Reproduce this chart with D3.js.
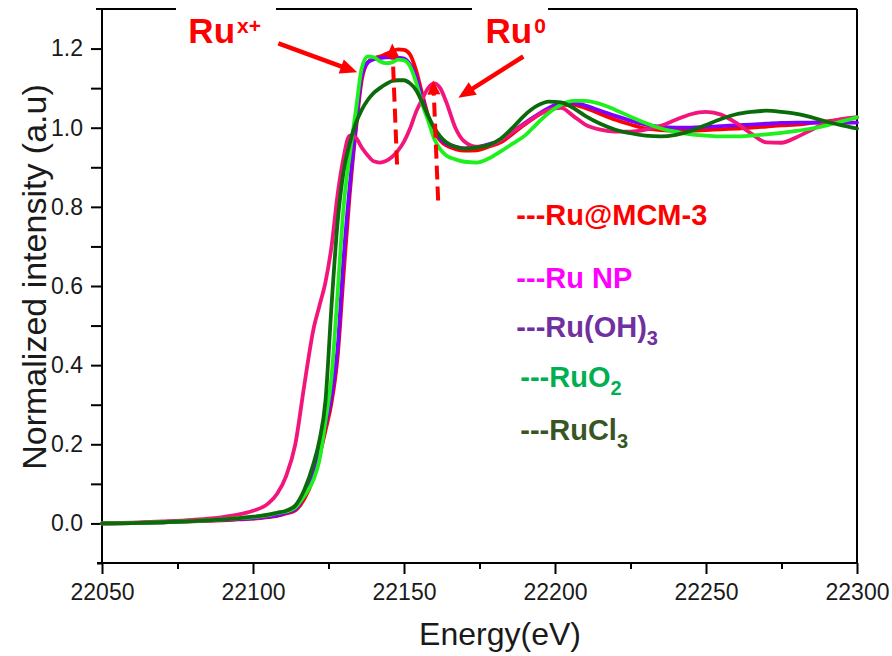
<!DOCTYPE html>
<html lang="en">
<head>
<meta charset="UTF-8">
<title>Ru K-edge XANES</title>
<script src="https://d3js.org/d3.v7.min.js"></script>
<style>
  body { margin: 0; background: #fff; }
  svg { display: block; font-family: Arial, "Liberation Sans", sans-serif; }
</style>
</head>
<body>
<svg></svg>
<script>
// energy grid (eV) shared by all spectra
const energy = [22050, 22060, 22070, 22080, 22090, 22095, 22100, 22105, 22108, 22111, 22114, 22117,
  22120, 22122, 22124, 22126, 22128, 22130, 22132, 22134, 22136, 22138, 22140, 22142, 22144, 22146, 22148,
  22150, 22152, 22154, 22156, 22158, 22160, 22162, 22164, 22167, 22170, 22174, 22178, 22182, 22186,
  22190, 22194, 22198, 22202, 22206, 22210, 22215, 22220, 22225, 22230, 22235, 22240, 22245, 22250, 22255,
  22260, 22265, 22270, 22275, 22280, 22285, 22290, 22295, 22300];

const ruMCM = [0, .001, .003, .005, .008, .010, .012, .016, .019, .025, .033, .062,
  .115, .17, .235, .305, .42, .63, .83, .99, 1.12, 1.165, 1.175, 1.18, 1.186, 1.192, 1.198,
  1.197, 1.185, 1.145, 1.086, 1.03, .99, .968, .955, .946, .942, .943, .952, .963, .985,
  1.008, 1.03, 1.048, 1.058, 1.058, 1.05, 1.035, 1.02, 1.008, .998, .994, .992, .992, .994, .996,
  .998, 1.0, 1.003, 1.006, 1.008, 1.012, 1.016, 1.021, 1.026];

const ruNP = [0, .002, .005, .009, .016, .022, .032, .05, .075, .12, .20, .35,
  .49, .55, .61, .70, .83, .925, .98, .975, .95, .93, .915, .912, .916, .926, .942,
  .965, .998, 1.04, 1.072, 1.10, 1.112, 1.10, 1.065, 1.0, .965, .952, .955, .968, .99,
  1.01, 1.03, 1.045, 1.05, 1.03, 1.008, .995, .99, .99, .995, 1.005, 1.02, 1.034, 1.04, 1.033,
  1.012, .985, .963, .962, .976, .995, 1.013, 1.022, 1.026];

const ruOH3 = [0, .001, .003, .006, .009, .011, .013, .017, .020, .027, .036, .070,
  .125, .184, .25, .32, .44, .67, .85, 1.0, 1.13, 1.165, 1.173, 1.176, 1.178, 1.178, 1.177,
  1.175, 1.16, 1.13, 1.075, 1.025, .993, .972, .96, .952, .948, .95, .958, .968, .99,
  1.012, 1.032, 1.05, 1.062, 1.063, 1.056, 1.043, 1.03, 1.018, 1.008, 1.002, 1.0, 1.0, 1.002, 1.004,
  1.006, 1.008, 1.01, 1.012, 1.013, 1.013, 1.013, 1.013, 1.013];

const ruO2 = [0, .001, .003, .006, .010, .013, .016, .021, .026, .030, .040, .070,
  .11, .16, .26, .37, .58, .80, .93, 1.04, 1.15, 1.18, 1.178, 1.168, 1.163, 1.165, 1.172,
  1.17, 1.155, 1.115, 1.06, 1.018, .972, .945, .93, .92, .914, .912, .922, .94, .96,
  .98, 1.01, 1.038, 1.058, 1.068, 1.068, 1.06, 1.045, 1.028, 1.012, .998, .99, .983, .98, .978,
  .978, .98, .983, .987, .992, .998, 1.006, 1.016, 1.026];

const ruCl3 = [0, .001, .003, .006, .010, .013, .017, .022, .027, .032, .045, .085,
  .15, .21, .31, .55, .76, .89, .96, 1.01, 1.045, 1.07, 1.088, 1.10, 1.11, 1.118, 1.12,
  1.12, 1.112, 1.095, 1.065, 1.03, 1.0, .978, .963, .952, .947, .95, .956, .972, 1.0,
  1.032, 1.055, 1.066, 1.064, 1.05, 1.03, 1.01, .995, .986, .98, .978, .982, .992, 1.007, 1.022,
  1.034, 1.04, 1.043, 1.04, 1.035, 1.026, 1.015, 1.006, .998];

// drawing order: red, purple, pink, light green, dark green on top
const seriesNames = ["Ru@MCM-3", "Ru(OH)3", "Ru NP", "RuO2", "RuCl3"];
const seriesValues = [ruMCM, ruOH3, ruNP, ruO2, ruCl3];
const lineColors = ["#ff0000", "#7f00ff", "#f2157c", "#1ef01e", "#0b6b0b"];

const xTicks = [22050, 22100, 22150, 22200, 22250, 22300];
const xMinor = [22075, 22125, 22175, 22225, 22275];
const yTicks = [0, 0.2, 0.4, 0.6, 0.8, 1.0, 1.2];
const yMinor = [0.1, 0.3, 0.5, 0.7, 0.9, 1.1];

// legend entries: [main text, subscript, colour]
const legendItems = [
  ["---Ru@MCM-3", "", "#ff0000"],
  ["---Ru NP", "", "#ff00ff"],
  ["---Ru(OH)", "3", "#7030a0"],
  ["---RuO", "2", "#00b050"],
  ["---RuCl", "3", "#375623"]
];

const width = 892, height = 656;
const svg = d3.select("svg").attr("width", width).attr("height", height);

const x = d3.scaleLinear().domain([22050, 22300]).range([102, 857]);
const y = d3.scaleLinear().domain([-0.1, 1.3]).range([563, 9]);

// axes
const gx = svg.append("g").attr("transform", `translate(0,${y(-0.1)})`);
gx.call(d3.axisBottom(x).tickValues(xTicks).tickSize(11).tickPadding(10).tickFormat(d3.format("d")));
gx.append("g").call(d3.axisBottom(x).tickValues(xMinor).tickSize(6).tickFormat(""));

const gy = svg.append("g").attr("transform", `translate(${x(22050)},0)`);
gy.call(d3.axisLeft(y).tickValues(yTicks).tickSize(11).tickPadding(8).tickFormat(d3.format(".1f")));
gy.append("g").call(d3.axisLeft(y).tickValues(yMinor).tickSize(11).tickFormat(""));
gy.append("g").call(d3.axisLeft(y).tickValues([-0.1]).tickSize(5).tickFormat(""));

svg.selectAll(".domain").remove();
svg.selectAll(".tick line").attr("stroke", "#000").attr("stroke-width", 2);
svg.selectAll(".tick text").attr("fill", "#1a1a1a").style("font-size", "23px")
  .style("font-family", "Arial, 'Liberation Sans', sans-serif");

// frame
const frame = svg.append("g").attr("stroke", "#000").attr("stroke-width", 2).attr("fill", "none");
frame.append("line").attr("x1", x(22050)).attr("x2", x(22050)).attr("y1", y(1.3)).attr("y2", y(-0.1));
frame.append("line").attr("x1", x(22050) - 5).attr("x2", x(22300)).attr("y1", y(-0.1)).attr("y2", y(-0.1));
frame.append("line").attr("x1", x(22300)).attr("x2", x(22300)).attr("y1", y(1.3)).attr("y2", y(-0.1));
frame.append("line").attr("x1", x(22050) - 6).attr("x2", x(22300)).attr("y1", y(1.3)).attr("y2", y(1.3));

// spectra
const line = d3.line().curve(d3.curveMonotoneX);
seriesValues.forEach((vals, i) => {
  const pts = energy.map((e, j) => [x(e), y(vals[j])]);
  svg.append("path")
    .attr("d", line(pts))
    .attr("fill", "none")
    .attr("stroke", lineColors[i])
    .attr("stroke-width", 3.8)
    .attr("stroke-linejoin", "round")
    .attr("stroke-linecap", "round");
});

// axis titles
svg.append("text")
  .attr("x", 500).attr("y", 645)
  .attr("text-anchor", "middle")
  .style("font-size", "32px").attr("fill", "#1a1a1a")
  .text("Energy(eV)");

svg.append("text")
  .attr("transform", `translate(46,${277}) rotate(-90)`)
  .attr("text-anchor", "middle")
  .style("font-size", "34px").attr("fill", "#1a1a1a")
  .text("Normalized intensity (a.u)");

// annotations (positions in data units)
const red = "#ff0000";
function arrow(e1, v1, e2, v2, w, headL, headW, dash) {
  const x1 = x(e1), y1 = y(v1), x2 = x(e2), y2 = y(v2);
  const len = Math.hypot(x2 - x1, y2 - y1);
  const ux = (x2 - x1) / len, uy = (y2 - y1) / len;
  const bx = x2 - ux * headL, by = y2 - uy * headL;
  svg.append("line")
    .attr("x1", x1).attr("y1", y1)
    .attr("x2", bx + ux * 2).attr("y2", by + uy * 2)
    .attr("stroke", red).attr("stroke-width", w)
    .attr("stroke-dasharray", dash || null);
  svg.append("path")
    .attr("d", `M${x2},${y2}L${bx - uy * headW / 2},${by + ux * headW / 2}L${bx + uy * headW / 2},${by - ux * headW / 2}Z`)
    .attr("fill", red);
}

// white boxes behind the labels break the top frame line
svg.append("rect").attr("x", 176).attr("y", 2).attr("width", 100).attr("height", 14).attr("fill", "#fff");
svg.append("rect").attr("x", 472).attr("y", 2).attr("width", 76).attr("height", 14).attr("fill", "#fff");

function oxLabel(e, v, sup) {
  const t = svg.append("text")
    .attr("x", x(e)).attr("y", y(v))
    .attr("fill", red).style("font-weight", "bold").style("font-size", "35px");
  t.append("tspan").text("Ru");
  t.append("tspan").attr("dx", 2).attr("dy", -10).style("font-size", "21px").text(sup);
}
oxLabel(22078.6, 1.213, "x+");
oxLabel(22177.0, 1.213, "0");

arrow(22108.4, 1.213, 22134.5, 1.14, 4.5, 17, 15);
arrow(22189.5, 1.18, 22168.0, 1.076, 4.5, 17, 15);
arrow(22147.7, 0.907, 22146.1, 1.213, 4, 14, 13, "14,7");
arrow(22161.3, 0.816, 22159.7, 1.119, 4, 14, 13, "14,7");

// legend
const legendBase = [0.753, 0.594, 0.47, 0.344, 0.21];
const legendX = [22187.2, 22187.2, 22187.2, 22188.5, 22188.5];
legendItems.forEach((d, i) => {
  const t = svg.append("text")
    .attr("x", x(legendX[i])).attr("y", y(legendBase[i]))
    .attr("fill", d[2]).style("font-weight", "bold").style("font-size", "29px");
  t.append("tspan").text(d[0]);
  if (d[1]) t.append("tspan").attr("dy", 8).style("font-size", "20px").text(d[1]);
});
</script>
</body>
</html>
